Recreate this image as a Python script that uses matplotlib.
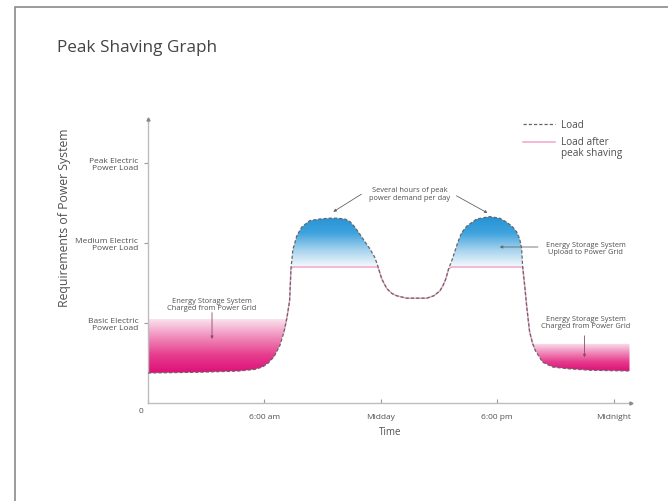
import numpy as np
import matplotlib
matplotlib.use("Agg")
import matplotlib.pyplot as plt
from matplotlib.colors import LinearSegmentedColormap
from matplotlib.path import Path
from matplotlib.patches import Rectangle
from matplotlib.lines import Line2D

# ---- data: daily load profile (hours of day, load level) ----
hours = [0.0, 2.7, 4.7, 5.5, 5.9, 6.2, 6.5, 6.8, 7.0, 7.15, 7.3, 7.37, 7.47,
         7.67, 7.93, 8.34, 8.86, 9.37, 9.73, 10.15, 10.4, 10.66, 10.92, 11.17,
         11.43, 11.69, 11.85, 12.05, 12.31, 12.57, 12.82, 13.34, 14.37, 14.73,
         15.04, 15.19, 15.35, 15.5, 15.66, 15.81, 15.97, 16.17, 16.43, 16.94,
         17.61, 18.13, 18.49, 18.8, 19.0, 19.16, 19.26, 19.31, 19.42, 19.52,
         19.67, 19.83, 19.98, 20.34, 20.86, 21.58, 22.76, 24.82]
load = [0.375, 0.385, 0.40, 0.42, 0.45, 0.50, 0.58, 0.72, 0.88, 1.05, 1.28, 1.68, 1.92,
        2.09, 2.20, 2.28, 2.30, 2.31, 2.31, 2.30, 2.27, 2.20, 2.11, 2.02,
        1.93, 1.82, 1.71, 1.55, 1.43, 1.37, 1.34, 1.31, 1.31, 1.34,
        1.40, 1.46, 1.55, 1.68, 1.78, 1.89, 2.01, 2.13, 2.21, 2.30,
        2.33, 2.31, 2.26, 2.20, 2.14, 2.05, 1.93, 1.71, 1.46, 1.21,
        0.89, 0.74, 0.65, 0.51, 0.45, 0.43, 0.41, 0.40]

shaved_level = 1.70          # load after peak shaving
night_charge_level = 1.05    # storage charging ceiling, early morning
evening_charge_level = 0.74  # storage charging ceiling, late evening
shaving_window = (6.9, 20.0)

time_ticks = [0, 6, 12, 18, 24]
time_labels = ["", "6:00 am", "Midday", "6:00 pm", "Midnight"]
level_ticks = [1, 2, 3]
level_labels = ["Basic Electric\nPower Load",
                "Medium Electric\nPower Load",
                "Peak Electric\nPower Load"]

FONT = ["Open Sans", "DejaVu Sans"]
plt.rcParams["font.family"] = FONT
TEXT = "#505050"
AXIS = "#bdbdbd"

W, H = 668, 502
fig = plt.figure(figsize=(W / 100, H / 100), dpi=100)
fig.patch.set_facecolor("white")


def fx(px):
    return px / W


def fy(py):
    return 1 - py / H


# page frame
fig.add_artist(Rectangle((fx(15), fy(W)), 2, fy(8) - fy(W), transform=fig.transFigure,
                         facecolor="none", edgecolor="#8a8a8a", lw=1.2))

AX_L, AX_R, AX_B, AX_T = 148, 633, 404, 116
ax = fig.add_axes([fx(AX_L), fy(AX_B), fx(AX_R) - fx(AX_L), fy(AX_T) - fy(AX_B)])
ax.set_facecolor("none")

x = np.array(hours)
y = np.array(load)


def gradient_fill(lower, upper, where, colors, y0, y1):
    coll = ax.fill_between(x, lower, upper, where=where, interpolate=True,
                           facecolor="none", edgecolor="none")
    clip = Path.make_compound_path(*coll.get_paths())
    cmap = LinearSegmentedColormap.from_list("grad", colors)
    grad = np.linspace(0, 1, 256).reshape(-1, 1)
    im = ax.imshow(grad, cmap=cmap, origin="lower", aspect="auto",
                   extent=[x.min(), x.max(), y0, y1], zorder=1, interpolation="bilinear")
    im.set_clip_path(clip, transform=ax.transData)


pink = ["#de0f78", "#e63d8d", "#f08cbb", "#fbe2ee"]
blue = ["#f6fafd", "#a6d3ee", "#3fa3dd", "#2592d5"]

# charging periods (load below the charge ceiling)
gradient_fill(y, night_charge_level, (x < 12) & (y <= night_charge_level),
              pink, y[x < 12].min(), night_charge_level)
gradient_fill(y, evening_charge_level, (x > 18) & (y <= evening_charge_level),
              pink, y[x > 18].min(), evening_charge_level)
# discharge periods (load above the shaved level)
gradient_fill(shaved_level, y, y >= shaved_level, blue, shaved_level, y.max())

# load after peak shaving
win = (x >= shaving_window[0]) & (x <= shaving_window[1])
ax.plot(x[win], np.minimum(y[win], shaved_level), color="#f2a6cb", lw=1.1, zorder=3)
# original load
ax.plot(x, y, color="#666666", lw=0.9, ls=(0, (2.6, 1.6)), zorder=4)

ax.set_xlim(0, 25)
ax.set_ylim(0, 3.6)

for s in ("top", "right"):
    ax.spines[s].set_visible(False)
for s in ("left", "bottom"):
    ax.spines[s].set_color(AXIS)
    ax.spines[s].set_linewidth(1.0)
ax.spines["bottom"].set_bounds(0, 24.9)
ax.spines["left"].set_bounds(0, 3.55)
ax.plot(24.9, 0, ">", color="#8a8a8a", ms=2.2, clip_on=False, zorder=5)
ax.plot(0, 3.55, "^", color="#8a8a8a", ms=2.2, clip_on=False, zorder=5)

ax.set_xticks(time_ticks)
ax.set_xticklabels(time_labels, fontsize=6, color=TEXT)
ax.set_yticks(level_ticks)
ax.set_yticklabels(level_labels, fontsize=6, color=TEXT, linespacing=1.1)
ax.tick_params(axis="x", direction="in", length=3, width=0.8, color="#999999", pad=7)
ax.tick_params(axis="y", direction="out", length=3, width=0.8, color="#999999", pad=4)
ax.text(-0.25, -0.05, "0", ha="right", va="top", fontsize=6, color=TEXT)

ax.set_xlabel("Time", fontsize=7, color=TEXT)
ax.xaxis.set_label_coords((390 - AX_L) / (AX_R - AX_L), (AX_B - 427) / (AX_B - AX_T))
ax.set_ylabel("Requirements of Power System", fontsize=8.8, color=TEXT)
ax.yaxis.set_label_coords((71 - AX_L) / (AX_R - AX_L), (AX_B - 218) / (AX_B - AX_T))

# annotations
arrow = dict(arrowstyle="-|>", color="#666666", lw=0.6, mutation_scale=4, shrinkA=0, shrinkB=0)
note = dict(fontsize=5.4, color=TEXT, ha="center", va="center", linespacing=1.1)

ax.text(3.3, 1.24, "Energy Storage System\nCharged from Power Grid", **note)
ax.annotate("", xy=(3.3, 0.80), xytext=(3.3, 1.13),
            arrowprops=dict(arrow, color="#8a4a6a"))

ax.text(13.5, 2.62, "Several hours of peak\npower demand per day", **note)
ax.annotate("", xy=(9.55, 2.39), xytext=(11.0, 2.61), arrowprops=arrow)
ax.annotate("", xy=(17.5, 2.375), xytext=(15.9, 2.59), arrowprops=arrow)

ax.text(22.55, 1.94, "Energy Storage System\nUpload to Power Grid", **note)
ax.annotate("", xy=(18.13, 1.95), xytext=(20.1, 1.95), arrowprops=arrow)

ax.text(22.55, 1.01, "Energy Storage System\nCharged from Power Grid", **note)
ax.annotate("", xy=(22.5, 0.57), xytext=(22.5, 0.84),
            arrowprops=dict(arrow, color="#8a4a6a"))

# legend
fig.add_artist(Line2D([fx(523), fx(555)], [fy(125), fy(125)], transform=fig.transFigure,
                      color="#666666", lw=0.9, ls=(0, (2.6, 1.6))))
fig.add_artist(Line2D([fx(523), fx(555)], [fy(143), fy(143)], transform=fig.transFigure,
                      color="#f2a6cb", lw=1.1))
fig.text(fx(561), fy(125), "Load", fontsize=7.2, color=TEXT, ha="left", va="center")
fig.text(fx(561), fy(137), "Load after\npeak shaving", fontsize=7.2, color=TEXT,
         ha="left", va="top", linespacing=1.0)

# title
fig.text(fx(57), fy(48), "Peak Shaving Graph", fontsize=12.3, color="#444444",
         ha="left", va="center")

fig.savefig("out.png", dpi=100)
